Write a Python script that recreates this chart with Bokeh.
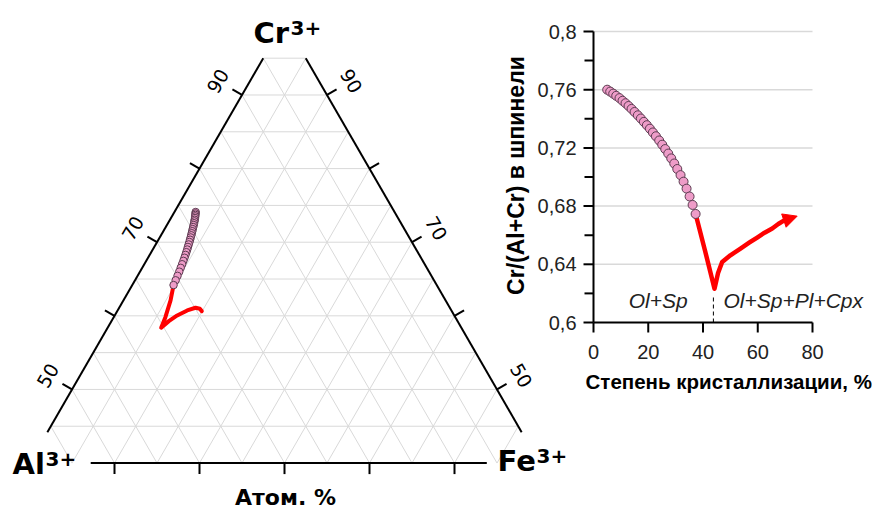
import math
from bokeh.plotting import figure
from bokeh.models import Range1d, Label, Arrow, NormalHead
from bokeh.core.properties import value
from bokeh.embed import file_html
from bokeh.resources import INLINE

# ---------------- data: right chart ----------------
cryst_pct = [5.0, 6.1, 7.2, 8.3, 9.5, 10.6, 11.7, 12.8, 13.9, 15.0, 16.2, 17.3,
             18.4, 19.5, 20.6, 21.7, 22.8, 24.0, 25.1, 26.2, 27.3, 28.4, 29.5,
             30.6, 31.8, 32.9, 34.0, 35.1, 36.2, 37.3]
cr_number = [0.7600, 0.7587, 0.7573, 0.7558, 0.7542, 0.7524, 0.7507, 0.7488,
             0.7468, 0.7447, 0.7424, 0.7402, 0.7379, 0.7356, 0.7332, 0.7306,
             0.7280, 0.7251, 0.7222, 0.7192, 0.7161, 0.7128, 0.7093, 0.7055,
             0.7013, 0.6968, 0.6920, 0.6866, 0.6808, 0.6746]
trend_x = [37.3, 40.7, 44.2, 45.5, 47.0, 50.0, 53.7, 57.0, 59.8, 62.5, 65.3, 67.5, 69.5]
trend_y = [0.6746, 0.6497, 0.6232, 0.6340, 0.6416, 0.6462, 0.6508, 0.6550,
           0.6584, 0.6617, 0.6646, 0.6677, 0.6700]
arrow_tip_x = 74.4
arrow_tip_y = 0.6731
boundary_x = 43.8
boundary_top = 0.618
y_ticks = [0.6, 0.64, 0.68, 0.72, 0.76, 0.8]
y_minor = [0.62, 0.66, 0.70, 0.74, 0.78]
x_ticks = [0, 20, 40, 60, 80]
stage_labels = ["Ol+Sp", "Ol+Sp+Pl+Cpx"]

# ---------------- data: ternary (atomic %) ----------------
tern_cr = [74.10, 73.91, 73.71, 73.51, 73.29, 73.05, 72.83, 72.58, 72.33, 72.06,
           71.78, 71.50, 71.22, 70.94, 70.65, 70.34, 70.03, 69.70, 69.36, 69.01,
           68.65, 68.28, 67.89, 67.47, 67.01, 66.52, 66.00, 65.43, 64.83, 64.18]
tern_fe = [2.50, 2.58, 2.66, 2.74, 2.83, 2.91, 2.99, 3.07, 3.15, 3.23,
           3.31, 3.40, 3.48, 3.56, 3.64, 3.72, 3.80, 3.88, 3.96, 4.05,
           4.13, 4.21, 4.29, 4.37, 4.45, 4.53, 4.62, 4.70, 4.78, 4.86]
path_cr = [64.18, 62.09, 59.82, 58.38, 59.28, 60.05, 60.73, 61.10, 60.96, 60.64]
path_fe = [4.86, 5.55, 6.08, 6.30, 6.75, 7.35, 8.19, 8.98, 9.56, 9.95]
side_ticks = [50, 60, 70, 80, 90]
side_labels = ["50", "70", "90"]
bottom_ticks = [30, 40, 50, 60, 70]
grid_step_levels = [5, 10, 15, 20, 25, 30, 35, 40, 45, 50, 55]
cr_grid_levels = [45, 50, 55, 60, 65, 70, 75, 80, 85, 90, 95]
cr_low, cr_top, cr_side_low = 40, 95, 44.2
bottom_span = (27.2, 73.8)

S3 = math.sqrt(3) / 2


def tern_x(cr, fe):
    return [f + c / 2 for c, f in zip(cr, fe)]


def tern_y(cr):
    return [c * S3 for c in cr]


PINK = "#EE9CC8"
PINK_LINE = "#5b3b50"
RED = "#FF0000"
GRID = "#d9d9d9"

W, H = 872, 509
# one canvas: default ranges = ternary space, extra ranges = right chart
p = figure(width=W, height=H, output_backend="svg", toolbar_location=None,
           title=None, x_axis_type=None, y_axis_type=None,
           x_range=Range1d(141 / 8.5, (W + 141) / 8.5),
           y_range=Range1d((757 - H) / 8.5, 757 / 8.5),
           min_border=0, outline_line_color=None)
p.grid.visible = False
PXU = 80 / 219.0     # chart x-units per pixel
PYU = 0.2 / 291.0    # chart y-units per pixel
p.extra_x_ranges = {"rx": Range1d(-593 * PXU, 80 + (W - 812) * PXU)}
p.extra_y_ranges = {"ry": Range1d(0.6 - (H - 322) * PYU, 0.8 + 31 * PYU)}
RR = dict(x_range_name="rx", y_range_name="ry")

# ---------------- ternary ----------------
gx0, gy0, gx1, gy1 = [], [], [], []
for c in cr_grid_levels:
    gx0.append(c / 2); gy0.append(c * S3); gx1.append(100 - c / 2); gy1.append(c * S3)
for a in grid_step_levels:
    c_hi = min(cr_top, 100 - a)
    gx0 += tern_x([cr_low], [100 - a - cr_low]); gy0 += tern_y([cr_low])
    gx1 += tern_x([c_hi], [100 - a - c_hi]); gy1 += tern_y([c_hi])
    gx0 += tern_x([cr_low], [a]); gy0 += tern_y([cr_low])
    gx1 += tern_x([c_hi], [a]); gy1 += tern_y([c_hi])
p.segment(gx0, gy0, gx1, gy1, line_color=GRID, line_width=1)

p.line(tern_x([cr_side_low, cr_top], [0, 0]), tern_y([cr_side_low, cr_top]),
       line_color="black", line_width=2)
p.line(tern_x([cr_side_low, cr_top], [100 - cr_side_low, 100 - cr_top]),
       tern_y([cr_side_low, cr_top]), line_color="black", line_width=2)
p.line([bottom_span[0], bottom_span[1]], [cr_low * S3, cr_low * S3],
       line_color="black", line_width=2)
p.segment(bottom_ticks, [cr_low * S3] * len(bottom_ticks), bottom_ticks,
          [cr_low * S3 - 1.3] * len(bottom_ticks), line_color="black", line_width=2)

tl = 1.3
lx = [c / 2 for c in side_ticks]
rx = [100 - c / 2 for c in side_ticks]
sy = [c * S3 for c in side_ticks]
p.segment(lx, sy, [x - tl * S3 for x in lx], [y + tl * 0.5 for y in sy],
          line_color="black", line_width=2)
p.segment(rx, sy, [x + tl * S3 for x in rx], [y + tl * 0.5 for y in sy],
          line_color="black", line_width=2)
off = 3.3
for lab in side_labels:
    c = float(lab)
    p.add_layout(Label(x=c / 2 - off * S3, y=c * S3 + off * 0.5, text=lab,
                       angle=math.pi / 3, text_align="center", text_baseline="middle",
                       text_font="DejaVu Sans", text_font_size="19px",
                       text_color="black"))
    p.add_layout(Label(x=100 - c / 2 + off * S3, y=c * S3 + off * 0.5, text=lab,
                       angle=-math.pi / 3, text_align="center", text_baseline="middle",
                       text_font="DejaVu Sans", text_font_size="19px",
                       text_color="black"))

p.line(tern_x(path_cr, path_fe), tern_y(path_cr), line_color=RED, line_width=4,
       line_join="round", line_cap="round")
p.scatter(tern_x(tern_cr, tern_fe), tern_y(tern_cr), marker="circle", size=7.5,
          fill_color=PINK, line_color=PINK_LINE, line_width=1)


def px2x(px):
    return (px + 141) / 8.5


def py2y(py):
    return (757 - py) / 8.5


big = dict(text_font="DejaVu Sans", text_font_style="bold", text_color="black",
           text_baseline="alphabetic")
for main, sup, x0, yb, xs, ys in [("Cr", "3+", 253, 32, 290, 27),
                                  ("Al", "3+", 12, 463, 45, 458),
                                  ("Fe", "3+", 497, 460, 536, 455)]:
    p.add_layout(Label(x=px2x(x0), y=py2y(yb), text=main, text_font_size="29px", **big))
    p.add_layout(Label(x=px2x(xs), y=py2y(ys), text=sup, text_font_size="20px", **big))
p.add_layout(Label(x=px2x(285), y=py2y(497), text="Атом. %", text_align="center",
                   text_font_size="22px", **big))

# ---------------- right chart ----------------
gl = y_ticks[1:]
p.segment([0] * len(gl), gl, [80] * len(gl), gl, line_color=GRID, line_width=1.5, **RR)
p.segment([0], [y_ticks[0]], [0], [y_ticks[-1]], line_color="black", line_width=2, **RR)
p.segment([x_ticks[0]], [y_ticks[0]], [x_ticks[-1]], [y_ticks[0]], line_color="black",
          line_width=2, **RR)
p.segment([0] * len(y_ticks), y_ticks, [-10 * PXU] * len(y_ticks), y_ticks,
          line_color="black", line_width=2, **RR)
p.segment([0] * len(y_minor), y_minor, [-9 * PXU] * len(y_minor), y_minor,
          line_color="black", line_width=2, **RR)
p.segment(x_ticks, [0.6] * len(x_ticks), x_ticks, [0.6 - 10 * PYU] * len(x_ticks),
          line_color="black", line_width=2, **RR)
y_tick_text = [f"{t:.2f}".rstrip("0").replace(".", ",") for t in y_ticks]
x_tick_text = [str(t) for t in x_ticks]
p.text([-17 * PXU] * len(y_ticks), y_ticks, text=y_tick_text, text_align="right",
       text_baseline="middle", text_font=value("Liberation Sans"),
       text_font_size="20px", text_color="#222222", **RR)
p.text(x_ticks, [0.6 - 22 * PYU] * len(x_ticks), text=x_tick_text, text_align="center",
       text_baseline="top", text_font=value("Liberation Sans"),
       text_font_size="20px", text_color="#222222", **RR)

p.segment([boundary_x], [0.6], [boundary_x], [boundary_top], line_color="black",
          line_width=1, line_dash="4 3", **RR)
p.line(trend_x, trend_y, line_color=RED, line_width=4.5, line_join="round",
       line_cap="round", **RR)
p.add_layout(Arrow(x_start=trend_x[-1], y_start=trend_y[-1], x_end=arrow_tip_x,
                   y_end=arrow_tip_y, line_color=RED, line_width=4.5,
                   end=NormalHead(size=14, fill_color=RED, line_color=RED), **RR))
p.scatter(cryst_pct, cr_number, marker="circle", size=9, fill_color=PINK,
          line_color=PINK_LINE, line_width=1, **RR)

ital = dict(text_font="Liberation Sans", text_font_style="italic",
            text_font_size="21px", text_baseline="middle", text_color="#222222")
p.add_layout(Label(x=23.6, y=0.6152, text=stage_labels[0], text_align="center",
                   **ital, **RR))
p.add_layout(Label(x=47.5, y=0.6152, text=stage_labels[1], text_align="left",
                   **ital, **RR))

ax_lab = dict(text_font="Liberation Sans", text_font_style="bold", text_color="black")
p.add_layout(Label(x=-2.9, y=0.6 - (381 - 322) * PYU, text="Степень кристаллизации, %",
                   text_align="left", text_baseline="alphabetic",
                   text_font_size="20.5px", **ax_lab, **RR))
p.add_layout(Label(x=-78 * PXU, y=0.8 - (175 - 31) * PYU, text="Cr/(Al+Cr) в шпинели",
                   angle=math.pi / 2, text_align="center", text_baseline="middle",
                   text_font_size="23px", **ax_lab, **RR))

open("out.html", "w").write(file_html(p, INLINE))
